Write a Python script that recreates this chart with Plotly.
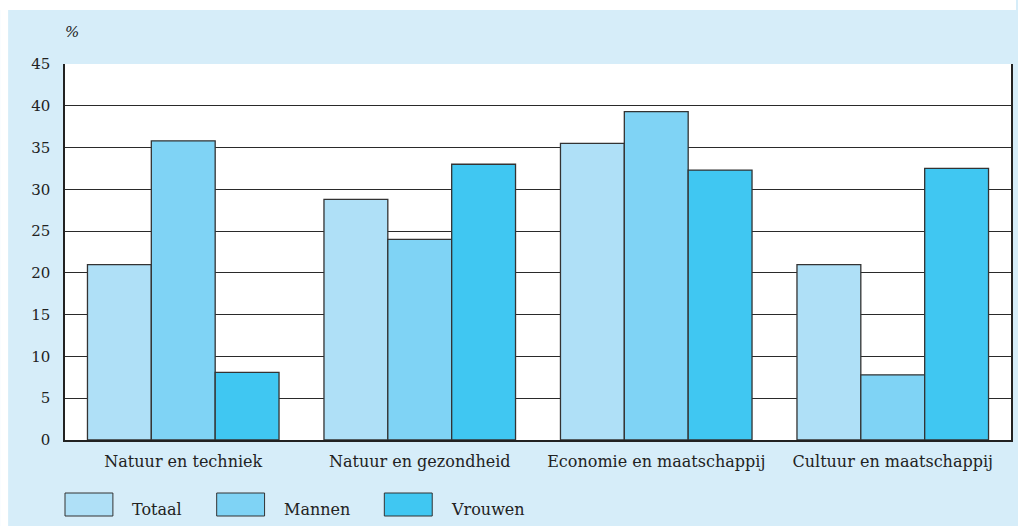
import plotly.graph_objects as go

categories = ["Natuur en techniek", "Natuur en gezondheid",
              "Economie en maatschappij", "Cultuur en maatschappij"]
totaal = [21.0, 28.8, 35.5, 21.0]
mannen = [35.8, 24.0, 39.3, 7.8]
vrouwen = [8.1, 33.0, 32.3, 32.5]
series_names = ["Totaal", "Mannen", "Vrouwen"]
colors = ["#afe0f7", "#7fd3f5", "#40c7f2"]
y_ticks = [0, 5, 10, 15, 20, 25, 30, 35, 40, 45]

W, H = 1018, 526
ML, MR, MT, MB = 65, 5, 64, 86
PW, PH = W - ML - MR, H - MT - MB


def px_x(p):
    return (p - ML) / PW


def px_y(p):
    return (H - MB - p) / PH


FONT = "DejaVu Serif"
fig = go.Figure()
for name, vals, col in zip(series_names, [totaal, mannen, vrouwen], colors):
    fig.add_trace(go.Bar(
        x=categories, y=vals, name=name,
        marker=dict(color=col, line=dict(color="#333333", width=1.3)),
        showlegend=False,
    ))

shapes = [
    # white strips around the tinted panel
    dict(type="rect", xref="paper", yref="paper", layer="below",
         x0=px_x(0), x1=px_x(W), y0=px_y(10), y1=px_y(0),
         fillcolor="white", line=dict(width=0)),
    dict(type="rect", xref="paper", yref="paper", layer="below",
         x0=px_x(0), x1=px_x(8), y0=px_y(H), y1=px_y(0),
         fillcolor="white", line=dict(width=0)),
]
annotations = [
    dict(text="<i>%</i>", xref="paper", yref="paper", x=px_x(63), y=px_y(32),
         xanchor="left", yanchor="middle", showarrow=False,
         font=dict(family=FONT, size=15, color="#222")),
]

# legend swatches and labels
legend_x = [65, 217, 385]
for name, col, lx in zip(series_names, colors, legend_x):
    shapes.append(dict(type="rect", xref="paper", yref="paper",
                       x0=px_x(lx), x1=px_x(lx + 48),
                       y0=px_y(516), y1=px_y(493),
                       fillcolor=col, line=dict(color="#333333", width=1)))
    annotations.append(dict(text=name, xref="paper", yref="paper",
                            x=px_x(lx + 65), y=px_y(509),
                            xanchor="left", yanchor="middle", showarrow=False,
                            font=dict(family=FONT, size=16, color="#222")))

fig.update_layout(
    width=W, height=H,
    margin=dict(l=ML, r=MR, t=MT, b=MB),
    paper_bgcolor="#d6edf9",
    plot_bgcolor="white",
    barmode="group",
    bargap=0.19,
    bargroupgap=0,
    font=dict(family=FONT, size=15, color="#222"),
    shapes=shapes,
    annotations=annotations,
    xaxis=dict(showgrid=False, showline=True, linecolor="#222", linewidth=1.5,
               mirror=False, ticks="", tickfont=dict(family=FONT, size=16),
               ticklabelstandoff=6),
    yaxis=dict(range=[0, 45], tickvals=y_ticks, showgrid=True,
               gridcolor="#2a2a2a", gridwidth=1, showline=True, linecolor="#222",
               linewidth=1.5, mirror=True, ticks="", zeroline=False,
               tickfont=dict(family=FONT, size=15), ticklabelstandoff=10),
)

fig.write_html("out.html")
